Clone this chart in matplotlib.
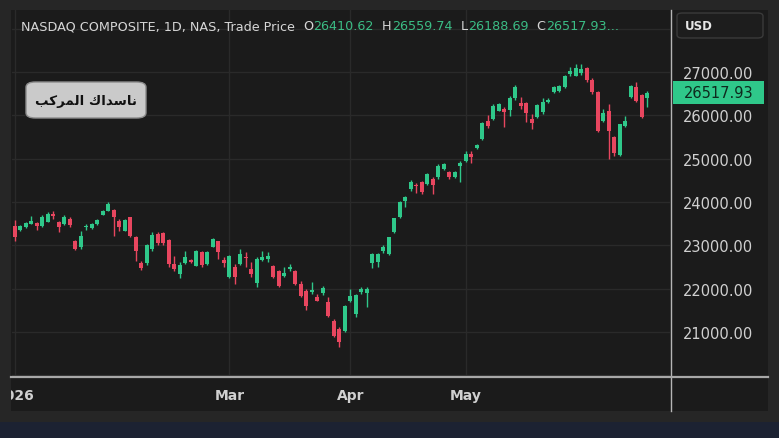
import matplotlib
matplotlib.use("Agg")
import matplotlib.pyplot as plt
from matplotlib.patches import Rectangle, FancyBboxPatch
from matplotlib.transforms import Bbox, blended_transform_factory
import numpy as np

# ---------------- data ----------------
opens = [23451, 23352, 23421, 23497, 23513, 23451, 23543, 23721, 23537, 23490,
         23606, 23105, 22966, 23414, 23398, 23490, 23705, 23797, 23814, 23567,
         23336, 23645, 23197, 22590, 22590, 22913, 23259, 23275, 23121, 22567,
         22336, 22583, 22659, 22527, 22837, 22567, 22966, 23091, 22659, 22273,
         22504, 22567, 22735, 22451, 22121, 22659, 22682, 22527, 22412, 22297,
         22451, 22412, 22105, 21950, 21913, 21805, 21897, 21682, 21257, 21066,
         21027, 21719, 21412, 21913, 21890, 22590, 22606, 22874, 22798, 23299,
         23645, 24028, 24298, 24391, 24453, 24414, 24529, 24569, 24760, 24684,
         24569, 24823, 24952, 25107, 25238, 25453, 25876, 25915, 26106, 26146,
         26130, 26393, 26284, 26284, 25915, 25954, 26083, 26300, 26545, 26568,
         26647, 26954, 26915, 26977, 27085, 26822, 26531, 25876, 26106, 25492,
         25083, 25760, 26416, 26647, 26469, 26410.62]
highs = [23583, 23470, 23540, 23682, 23537, 23690, 23760, 23784, 23567, 23690,
         23645, 23130, 23336, 23490, 23515, 23610, 23820, 23991, 23837, 23606,
         23600, 23659, 23220, 22643, 23028, 23299, 23299, 23300, 23144, 22758,
         22606, 22874, 22680, 22890, 22874, 22870, 23170, 23105, 22721, 22780,
         22567, 22913, 22837, 22606, 22721, 22874, 22837, 22550, 22430, 22490,
         22567, 22430, 22181, 21989, 22158, 21874, 22066, 21798, 21296, 21105,
         21610, 21989, 21874, 22029, 22029, 22821, 22821, 23005, 23200, 23640,
         24010, 24144, 24513, 24437, 24490, 24670, 24568, 24876, 24900, 24715,
         24710, 24952, 25183, 25183, 25340, 25850, 26007, 26250, 26290, 26185,
         26453, 26700, 26416, 26314, 26030, 26260, 26393, 26390, 26670, 26700,
         26940, 27108, 27185, 27185, 27108, 26850, 26560, 26146, 26261, 25520,
         25810, 25991, 26690, 26762, 26490, 26559.74]
lows = [23105, 23330, 23400, 23490, 23352, 23420, 23530, 23606, 23306, 23470,
        23414, 22890, 22913, 23352, 23380, 23470, 23690, 23784, 23220, 23336,
        23320, 23183, 22643, 22428, 22543, 22874, 23005, 23005, 22504, 22412,
        22243, 22567, 22590, 22510, 22504, 22550, 22950, 22682, 22504, 22250,
        22105, 22550, 22490, 22260, 22043, 22630, 22606, 22250, 22040, 22273,
        22412, 22080, 21812, 21505, 21874, 21705, 21851, 21335, 20874, 20643,
        21005, 21682, 21335, 21874, 21567, 22467, 22497, 22820, 22780, 23280,
        23630, 23876, 24259, 24206, 24183, 24390, 24183, 24529, 24740, 24529,
        24550, 24467, 24915, 24899, 25220, 25430, 25700, 25890, 26090, 25723,
        25991, 26360, 26146, 25838, 25684, 25930, 26030, 26280, 26515, 26530,
        26620, 26900, 26900, 26931, 26776, 26500, 25620, 25838, 24991, 25060,
        25065, 25723, 26400, 26300, 25930, 26188.69]
closes = [23183, 23444, 23513, 23560, 23451, 23659, 23721, 23682, 23421, 23659,
          23467, 22913, 23220, 23444, 23490, 23590, 23797, 23952, 23645, 23414,
          23583, 23220, 22874, 22474, 23005, 23243, 23045, 23045, 22567, 22451,
          22551, 22735, 22606, 22874, 22551, 22837, 23144, 22837, 22583, 22758,
          22260, 22798, 22698, 22336, 22682, 22721, 22758, 22273, 22066, 22352,
          22504, 22105, 21835, 21604, 21973, 21719, 22006, 21373, 20911, 20759,
          21590, 21821, 21851, 21989, 21989, 22798, 22798, 22952, 23183, 23622,
          23991, 24107, 24467, 24361, 24222, 24645, 24391, 24823, 24876, 24569,
          24684, 24899, 25107, 25030, 25314, 25822, 25760, 26222, 26261, 26083,
          26393, 26647, 26208, 26053, 25815, 26238, 26300, 26360, 26647, 26684,
          26915, 27030, 27085, 27069, 26822, 26531, 25645, 26046, 25645, 25130,
          25799, 25876, 26670, 26337, 25954, 26517.93]

month_tick_idx = [0, 39, 61, 82]
month_tick_labels = ["2026", "Mar", "Apr", "May"]
price_ticks = [20000, 21000, 22000, 23000, 24000, 25000, 26000, 27000, 28000]
price_tick_labels = ["", "21000.00", "22000.00", "23000.00", "24000.00",
                     "25000.00", "26000.00", "27000.00", ""]
title_text = "NASDAQ COMPOSITE, 1D, NAS, Trade Price"
ohlc_labels = ["O", "H", "L", "C"]
ohlc_values = ["26410.62", "26559.74", "26188.69", "26517.93..."]
last_price = 26517.93
# "ناسداك المركب" shaped with Arabic presentation forms, visual order
arabic_label = "\uFE90\uFEDB\uFEAE\uFEE4\uFEDF\uFE8D \uFED9\uFE8D\uFEAA\uFEB3\uFE8E\uFEE7"

# ---------------- style ----------------
W, H = 779, 439
UP = "#2fc88a"
DOWN = "#e8465f"
BG = "#1b1b1b"
FRAME = "#262626"
GRID = "#2a2a2a"
TXT = "#d0d0d0"
plt.rcParams['font.family'] = ['DejaVu Sans']

fig = plt.figure(figsize=(W / 100, H / 100), dpi=100, facecolor=FRAME)


def fx(x):
    return x / W


def fy(y):
    return 1 - y / H


# panel background and bottom strip
fig.patches.append(Rectangle((fx(11), fy(412)), fx(768) - fx(11), fy(11) - fy(412),
                             transform=fig.transFigure, facecolor=BG, edgecolor='none', zorder=-5))
fig.patches.append(Rectangle((0, 0), 1, fy(423), transform=fig.transFigure,
                             facecolor="#1c2232", edgecolor='none', zorder=-4))

ax = fig.add_axes([fx(12), fy(377), fx(670) - fx(12), fy(11) - fy(377)])
ax.set_facecolor(BG)
n = len(opens)
idx = np.arange(n)
o = np.array(opens); h = np.array(highs); l = np.array(lows); c = np.array(closes)
colors = [UP if cc >= oo else DOWN for oo, cc in zip(o, c)]

ax.vlines(idx, l, h, colors=colors, linewidth=1.0, zorder=3)
bottoms = np.minimum(o, c)
heights = np.maximum(np.abs(c - o), 30)
ax.bar(idx, heights, bottom=bottoms, width=0.72, color=colors, edgecolor='none', zorder=4)

ax.set_xlim(-0.5, 119.1)
ax.set_ylim(19981, 28431)
ax.set_yticks(price_ticks)
ax.set_yticklabels(price_tick_labels)
ax.yaxis.tick_right()
ax.set_xticks(month_tick_idx)
ax.set_xticklabels(month_tick_labels)
ax.tick_params(axis='y', length=0, pad=9.5, labelsize=10.5, colors=TXT)
ax.tick_params(axis='x', length=0, pad=8.5, labelsize=10, colors=TXT)
for t in ax.get_xticklabels():
    t.set_fontweight('bold')
ax.grid(True, color=GRID, linewidth=1)
ax.set_axisbelow(True)
for s in ax.spines.values():
    s.set_visible(False)

# clip the 2026 label at the panel's left edge, as in the reference
clipbox = Bbox([[11, 0], [670, H]])
for t in ax.get_xticklabels():
    t.set_clip_box(clipbox)
    t.set_clip_on(True)

# separator lines
fig.add_artist(plt.Line2D([fx(670.5), fx(670.5)], [fy(11), fy(412)], color="#b5b5b5", lw=1.0))
fig.add_artist(plt.Line2D([fx(11), fx(768)], [fy(377.5), fy(377.5)], color="#a8a8a8", lw=1.6))

# last price box
bt = blended_transform_factory(ax.transAxes, ax.transData)
ax_w = 670 - 12
ax.add_patch(Rectangle(((673 - 12) / ax_w, last_price - 265), (764 - 673) / ax_w, 530,
                       transform=bt, facecolor=UP, edgecolor='none', clip_on=False, zorder=6))
ax.text((719 - 12) / ax_w, last_price, f"{last_price:.2f}", transform=bt, ha='center', va='center',
        fontsize=10.5, color="#0e2a1e", clip_on=False, zorder=7)

# USD box
fig.patches.append(FancyBboxPatch((fx(677), fy(39)), fx(763) - fx(677), fy(14) - fy(39),
                                  boxstyle="round,pad=0,rounding_size=0.007",
                                  transform=fig.transFigure, facecolor="#1d1d1d",
                                  edgecolor="#3a3a3a", lw=1.0, zorder=2))
fig.text(fx(685), fy(27), "USD", fontsize=8.5, color="#e6e6e6", fontweight='bold',
         ha='left', va='center', zorder=3)

# header, chained piece by piece
renderer = fig.canvas.get_renderer()
hfs = 9.2
t0 = fig.text(fx(21), fy(27), title_text, fontsize=hfs, color="#d6d6d6", ha='left', va='center')
xcur = t0.get_window_extent(renderer).x1 + 8
for lab, val in zip(ohlc_labels, ohlc_values):
    tl = fig.text(xcur / W, fy(27), lab, fontsize=hfs, color="#d6d6d6", ha='left', va='center')
    xcur = tl.get_window_extent(renderer).x1 + 0.5
    tv = fig.text(xcur / W, fy(27), val, fontsize=hfs, color="#3bbd85", ha='left', va='center')
    xcur = tv.get_window_extent(renderer).x1 + 8

# Arabic label box
fig.patches.append(FancyBboxPatch((fx(26), fy(119)), fx(146) - fx(26), fy(83) - fy(119),
                                  boxstyle="round,pad=0,rounding_size=0.012",
                                  transform=fig.transFigure, facecolor="#cacaca",
                                  edgecolor="#8c8c8c", lw=1.0, zorder=2))
fig.text(fx(86), fy(101), arabic_label, fontsize=9.6, color="#111111", fontweight='bold',
         ha='center', va='center', zorder=3)

fig.savefig("out.png", dpi=100, facecolor=FRAME)
